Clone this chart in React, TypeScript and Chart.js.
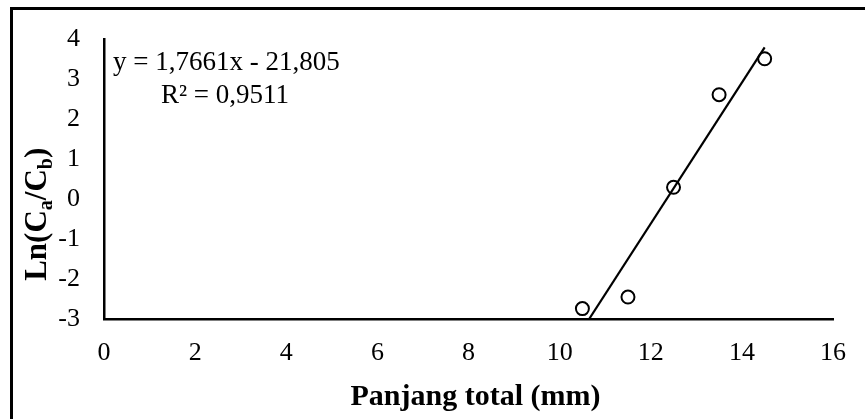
import React, { useEffect, useRef } from "react";
import { Chart, registerables } from "chart.js";
Chart.register(...registerables);

// Data
const panjangTotal = [10.5, 11.5, 12.5, 13.5, 14.5];
const lnRatio = [-2.74, -2.45, 0.3, 2.62, 3.52];
// Linear trendline (Excel) coefficients
const slope = 1.7661;
const intercept = -21.805;
const equationText = "y = 1,7661x - 21,805";
const r2Text = "R² = 0,9511";
const xTitle = "Panjang total (mm)";
const xMin = 0, xMax = 16, xStep = 2;
const yMin = -3, yMax = 4, yStep = 1;

const SERIF = "'Liberation Serif', 'Times New Roman', serif";

const decorPlugin = {
  id: "decor",
  afterDraw(chart: any) {
    const ctx = chart.ctx as CanvasRenderingContext2D;
    const area = chart.chartArea;
    ctx.save();
    // outer frame (only top and left visible)
    ctx.strokeStyle = "#000";
    ctx.lineWidth = 3;
    ctx.beginPath();
    ctx.moveTo(10, 8.5);
    ctx.lineTo(865, 8.5);
    ctx.moveTo(11.5, 7);
    ctx.lineTo(11.5, 419);
    ctx.stroke();

    ctx.fillStyle = "#000";
    // equation
    ctx.font = `27px ${SERIF}`;
    ctx.textAlign = "left";
    ctx.textBaseline = "alphabetic";
    ctx.fillText(equationText, 113, 70);
    ctx.fillText(r2Text, 161, 103);

    // x title
    ctx.font = `bold 30px ${SERIF}`;
    ctx.textAlign = "center";
    ctx.textBaseline = "middle";
    ctx.fillText(xTitle, (area.left + area.right) / 2 + 7, 397);

    // y title with subscripts
    const big = `bold 31px ${SERIF}`;
    const small = `bold 20px ${SERIF}`;
    const parts: [string, boolean][] = [
      ["Ln(C", false],
      ["a", true],
      ["/C", false],
      ["b", true],
      [")", false],
    ];
    let total = 0;
    for (const [t, sub] of parts) {
      ctx.font = sub ? small : big;
      total += ctx.measureText(t).width;
    }
    ctx.translate(36, (area.top + area.bottom) / 2 + 35);
    ctx.rotate(-Math.PI / 2);
    ctx.textAlign = "left";
    ctx.textBaseline = "alphabetic";
    let x = -total / 2;
    for (const [t, sub] of parts) {
      ctx.font = sub ? small : big;
      ctx.fillText(t, x, sub ? 16 : 10);
      x += ctx.measureText(t).width;
    }
    ctx.restore();
  },
};

export default function App() {
  const ref = useRef<HTMLCanvasElement>(null);
  useEffect(() => {
    if (!ref.current) return;
    const points = panjangTotal.map((x, i) => ({ x, y: lnRatio[i] }));
    const xStart = (yMin - intercept) / slope;
    const xEnd = Math.max(...panjangTotal);
    const trend = [
      { x: xStart, y: slope * xStart + intercept },
      { x: xEnd, y: slope * xEnd + intercept },
    ];
    const tickFont = { family: SERIF, size: 26 };
    const chart = new Chart(ref.current, {
      type: "scatter",
      data: {
        datasets: [
          {
            data: points,
            pointStyle: "circle",
            pointRadius: 6.5,
            pointBorderWidth: 2,
            borderColor: "#000",
            backgroundColor: "rgba(0,0,0,0)",
            pointBackgroundColor: "rgba(0,0,0,0)",
            pointBorderColor: "#000",
          },
          {
            type: "line",
            data: trend,
            borderColor: "#000",
            borderWidth: 2.2,
            pointRadius: 0,
            showLine: true,
            fill: false,
          } as any,
        ],
      },
      options: {
        responsive: false,
        animation: false,
        devicePixelRatio: 1,
        layout: { padding: { top: 30, right: 27, left: 0, bottom: 0 } },
        plugins: { legend: { display: false }, tooltip: { enabled: false }, title: { display: false } },
        scales: {
          x: {
            type: "linear",
            min: xMin,
            max: xMax,
            grid: { display: false, drawTicks: false },
            border: { display: true, color: "#000", width: 2.5 },
            ticks: { stepSize: xStep, color: "#000", font: tickFont, padding: 19 },
            afterFit: (s: any) => { s.height = 100; },
          },
          y: {
            type: "linear",
            min: yMin,
            max: yMax,
            grid: { display: false, drawTicks: false },
            border: { display: true, color: "#000", width: 2.5 },
            ticks: { stepSize: yStep, color: "#000", font: tickFont, padding: 24 },
            afterFit: (s: any) => { s.width = 104; },
          },
        },
      },
      plugins: [decorPlugin],
    });
    return () => chart.destroy();
  }, []);
  return (
    <div style={{ position: "fixed", left: 0, top: 0, width: 865, height: 419, background: "#fff" }}>
      <canvas ref={ref} width={865} height={419} style={{ width: 865, height: 419 }} />
    </div>
  );
}
